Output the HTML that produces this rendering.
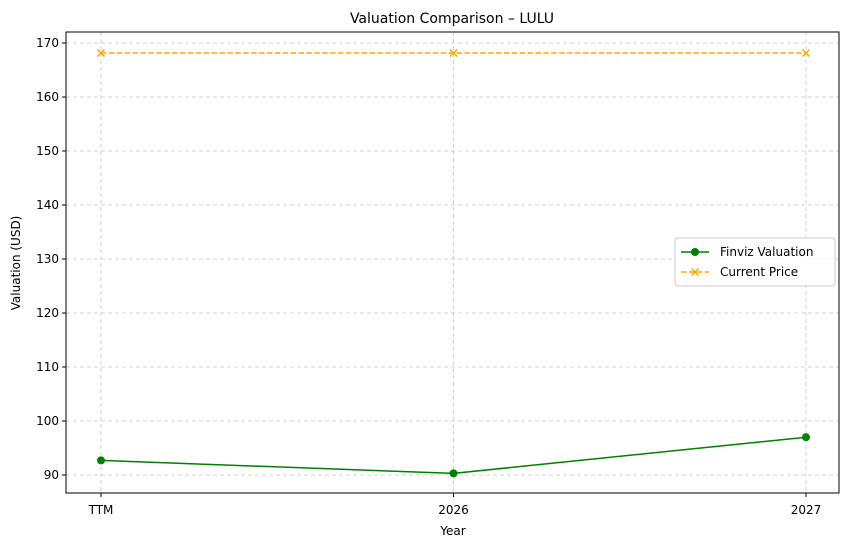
<!DOCTYPE html>
<html><head><meta charset="utf-8"><style>
body{margin:0;background:#fff;font-family:"Liberation Sans","DejaVu Sans",sans-serif}
</style></head><body>
<svg id="chart" width="850" height="547" xmlns="http://www.w3.org/2000/svg" font-family="DejaVu Sans, Liberation Sans, sans-serif">
<text x="452" y="23" font-size="14" text-anchor="middle">Valuation Comparison – LULU</text>
<text x="453" y="535" font-size="12" text-anchor="middle">Year</text>
<text transform="translate(20,263) rotate(-90)" font-size="12" text-anchor="middle">Valuation (USD)</text>
<g id="grid"></g><g id="series"></g>
<rect x="66" y="32" width="773" height="461" fill="none" stroke="#000" stroke-width="1"/>
<g id="ticks"></g>
<g>
<rect x="675" y="238" width="160" height="48" rx="3" fill="#fff" fill-opacity="0.85" stroke="#ccc"/>
<line x1="681" y1="252" x2="709" y2="252" stroke="green" stroke-width="1.5"/>
<circle cx="695" cy="252" r="4" fill="green"/>
<text x="720" y="256" font-size="12">Finviz Valuation</text>
<line x1="681" y1="272" x2="709" y2="272" stroke="orange" stroke-width="1.5" stroke-dasharray="5.5,2.4"/>
<path d="M691.5 268.5l7 7M698.5 268.5l-7 7" stroke="orange" stroke-width="1.5"/>
<text x="720" y="276" font-size="12">Current Price</text>
</g>
</svg>
<script>
const categories = ["TTM", "2026", "2027"];
const finvizValues = [92.7, 90.3, 97.0];
const priceValues = [168.15, 168.15, 168.15];
const yTicks = [90, 100, 110, 120, 130, 140, 150, 160, 170];

const NS = "http://www.w3.org/2000/svg";
const x = i => 101 + i * (806 - 101) / (categories.length - 1);
const y = v => 475 - (v - 90) * 5.4;
function mk(tag, attrs, parent) {
  const e = document.createElementNS(NS, tag);
  for (const k in attrs) e.setAttribute(k, attrs[k]);
  parent.appendChild(e);
  return e;
}
const grid = document.getElementById("grid");
const ticks = document.getElementById("ticks");
const series = document.getElementById("series");

yTicks.forEach(t => {
  const g = mk("line", {x1: 66, x2: 839, y1: y(t), y2: y(t), stroke: "#b0b0b0", "stroke-width": 0.8, "stroke-dasharray": "4,3", "stroke-opacity": 0.7}, grid);
  
  
  mk("line", {x1: 62, x2: 66, y1: y(t), y2: y(t), stroke: "#000"}, ticks);
  const tx = mk("text", {x: 59, y: y(t) + 4, "font-size": 12, "text-anchor": "end"}, ticks);
  tx.textContent = t;
  
  
});
categories.forEach((c, i) => {
  const g = mk("line", {x1: x(i), x2: x(i), y1: 32, y2: 493, stroke: "#b0b0b0", "stroke-width": 0.8, "stroke-dasharray": "4,3", "stroke-opacity": 0.7}, grid);
  
  
  mk("line", {x1: x(i), x2: x(i), y1: 493, y2: 497, stroke: "#000"}, ticks);
  const tx = mk("text", {x: x(i), y: 514, "font-size": 12, "text-anchor": "middle"}, ticks);
  tx.textContent = c;
  
  
});

const fl = mk("polyline", {points: finvizValues.map((v, i) => x(i) + "," + y(v)).join(" "), fill: "none", stroke: "green", "stroke-width": 1.5}, series);


finvizValues.forEach((v, i) => {
  const c = mk("circle", {cx: x(i), cy: y(v), r: 4, fill: "green"}, series);
  
  
});
const pl = mk("polyline", {points: priceValues.map((v, i) => x(i) + "," + y(v)).join(" "), fill: "none", stroke: "orange", "stroke-width": 1.5, "stroke-dasharray": "5.5,2.4"}, series);


priceValues.forEach((v, i) => {
  const px = x(i), py = y(v);
  const m = mk("path", {d: `M${px-3.5} ${py-3.5}l7 7M${px+3.5} ${py-3.5}l-7 7`, stroke: "orange", "stroke-width": 1.5}, series);
  
  
});
</script>
</body></html>
